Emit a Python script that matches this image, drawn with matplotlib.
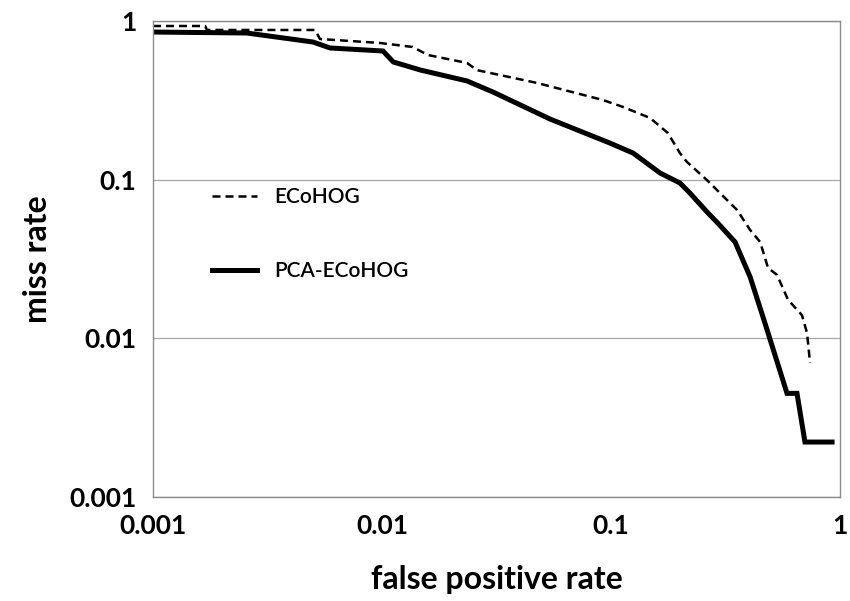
import matplotlib.pyplot as plt

# ECoHOG (dashed)
ecohog_fpr = [0.001, 0.00169, 0.00172, 0.0051, 0.00536, 0.0098, 0.0136, 0.0159, 0.0235, 0.026,
              0.0475, 0.092, 0.113, 0.148, 0.177, 0.2, 0.215, 0.262, 0.355, 0.405, 0.448,
              0.485, 0.531, 0.593, 0.682, 0.718, 0.74]
ecohog_miss = [0.93, 0.93, 0.878, 0.878, 0.77, 0.727, 0.686, 0.61, 0.544, 0.49,
               0.407, 0.318, 0.287, 0.245, 0.197, 0.147, 0.129, 0.0996, 0.0645, 0.0482, 0.0405,
               0.0278, 0.0251, 0.0175, 0.014, 0.0108, 0.007]

# PCA-ECoHOG (solid)
pca_fpr = [0.001, 0.00257, 0.005, 0.00593, 0.0101, 0.0112, 0.0147, 0.0235, 0.0305, 0.0542,
           0.099, 0.125, 0.164, 0.2, 0.221, 0.265, 0.29, 0.348, 0.405, 0.47, 0.587,
           0.649, 0.703, 0.923]
pca_miss = [0.852, 0.84, 0.737, 0.676, 0.647, 0.552, 0.491, 0.419, 0.357, 0.241,
            0.170, 0.147, 0.110, 0.0953, 0.0824, 0.0617, 0.054, 0.0405, 0.0244, 0.0125, 0.0045,
            0.0045, 0.00222, 0.00222]

x_ticks = [0.001, 0.01, 0.1, 1]
x_tick_labels = ['0.001', '0.01', '0.1', '1']
y_ticks = [0.001, 0.01, 0.1, 1]
y_tick_labels = ['0.001', '0.01', '0.1', '1']

plt.rcParams['font.family'] = ['Lato', 'DejaVu Sans']

fig = plt.figure(figsize=(8.5, 6.01), dpi=100)
ax = fig.add_axes([153 / 850, 104 / 601, 687 / 850, 476 / 601])

ax.plot(ecohog_fpr, ecohog_miss, color='black', lw=1.8, linestyle=(0, (3.2, 2.0)), label='ECoHOG')
ax.plot(pca_fpr, pca_miss, color='black', lw=3.6, solid_joinstyle='miter', label='PCA-ECoHOG')

ax.set_xscale('log')
ax.set_yscale('log')
ax.set_xlim(0.001, 1)
ax.set_ylim(0.001, 1)
ax.minorticks_off()
ax.set_xticks(x_ticks)
ax.set_xticklabels(x_tick_labels)
ax.set_yticks(y_ticks)
ax.set_yticklabels(y_tick_labels)
ax.tick_params(length=0, labelsize=19, pad=12)
for lbl in ax.get_xticklabels() + ax.get_yticklabels():
    lbl.set_fontweight('bold')

ax.grid(axis='y', color='#a6a6a6', lw=0.9)
for s in ax.spines.values():
    s.set_color('#8c8c8c')
    s.set_linewidth(1.0)

ax.set_xlabel('false positive rate', fontsize=23, fontweight='bold', labelpad=20)
ax.set_ylabel('miss rate', fontsize=23, fontweight='bold', labelpad=12)

leg = ax.legend(loc='upper left', bbox_to_anchor=(0.058, 0.69), frameon=False, fontsize=15,
                handlelength=2.2, handletextpad=0.8, labelspacing=2.6)
for t in leg.get_texts():
    t.set_fontweight('semibold')

fig.savefig('out.png', dpi=100)
